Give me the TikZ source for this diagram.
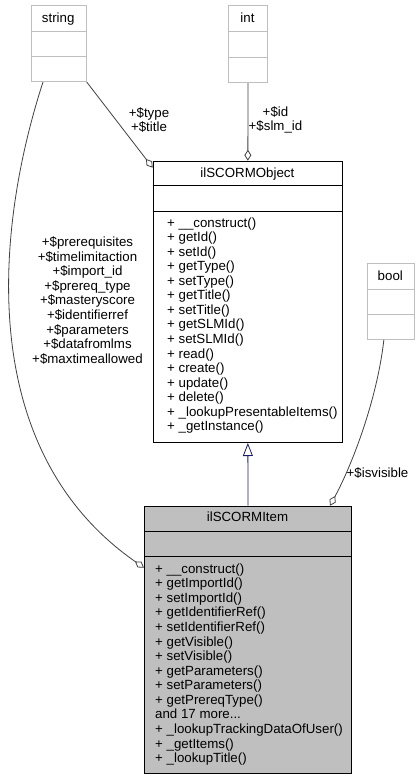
\documentclass[tikz,border=0pt]{standalone}
\usepackage{fontspec}
\setmainfont{Liberation Sans}
\usepackage{tikz}
\usetikzlibrary{arrows.meta, positioning}
\definecolor{boxgray}{HTML}{BFBFBF}
\definecolor{edgegray}{HTML}{404040}
\definecolor{inhblue}{HTML}{191970}
\newcommand{\moremeth}{and 17 more...}

\begin{document}
\begin{tikzpicture}[x=1pt, y=-1pt,
    every node/.style={font=\fontsize{13.3}{14.57}\selectfont, inner sep=0pt},
    extbox/.style={draw=boxgray, line width=1pt, fill=white, anchor=north west},
    clsbox/.style={draw=black, line width=1pt, anchor=north west},
    meth/.style={anchor=base west},
    lbl/.style={align=center},
    agg/.style={draw=edgegray, line width=0.8pt, -{Diamond[open, length=11pt, width=7pt]}},
    inh/.style={draw=inhblue, line width=0.8pt, -{Triangle[open, length=13pt, width=10pt]}}]

        \useasboundingbox (0,0) rectangle (419,779);

        % Các lớp ngoài: string, int, bool
        \node[extbox, minimum width=55pt, minimum height=75.7pt] (string) at (30.7,5.3) {};
        \draw[boxgray, line width=1pt] ([yshift=-25.7pt]string.north west) -- ([yshift=-25.7pt]string.north east);
        \draw[boxgray, line width=1pt] ([yshift=-51.4pt]string.north west) -- ([yshift=-51.4pt]string.north east);
        \node[anchor=base] (stringname) at (58.2,22) {string};

        \node[extbox, minimum width=39pt, minimum height=76.7pt] (int) at (228,5.3) {};
        \draw[boxgray, line width=1pt] ([yshift=-25.7pt]int.north west) -- ([yshift=-25.7pt]int.north east);
        \draw[boxgray, line width=1pt] ([yshift=-51.7pt]int.north west) -- ([yshift=-51.7pt]int.north east);
        \node[anchor=base] (intname) at (247.5,22) {int};

        \node[extbox, minimum width=47.3pt, minimum height=76pt] (bool) at (366.7,263) {};
        \draw[boxgray, line width=1pt] ([yshift=-26pt]bool.north west) -- ([yshift=-26pt]bool.north east);
        \draw[boxgray, line width=1pt] ([yshift=-51pt]bool.north west) -- ([yshift=-51pt]bool.north east);
        \node[anchor=base] (boolname) at (390.3,280.5) {bool};

        % Lớp ilSCORMObject
        \node[clsbox, fill=white, minimum width=189.3pt, minimum height=281.3pt] (obj) at (152.7,160.7) {};
        \draw[line width=1pt] ([yshift=-24.6pt]obj.north west) -- ([yshift=-24.6pt]obj.north east);
        \draw[line width=1pt] ([yshift=-50.3pt]obj.north west) -- ([yshift=-50.3pt]obj.north east);
        \node[anchor=base] (objname) at (247.35,177.5) {ilSCORMObject};
        \foreach \m [count=\i from 0] in {+ \_\_construct(), + getId(), + setId(), + getType(), + setType(),
            + getTitle(), + setTitle(), + getSLMId(), + setSLMId(), + read(), + create(), + update(),
            + delete(), + \_lookupPresentableItems(), + \_getInstance()}
            \node[meth] (om\i) at (167,{227+14.57*\i}) {\m};

        % Lớp ilSCORMItem
        \node[clsbox, fill=boxgray, minimum width=207pt, minimum height=267pt] (item) at (144,505.7) {};
        \draw[line width=1pt] ([yshift=-25.6pt]item.north west) -- ([yshift=-25.6pt]item.north east);
        \draw[line width=1pt] ([yshift=-51pt]item.north west) -- ([yshift=-51pt]item.north east);
        \node[anchor=base] (itemname) at (247.5,521) {ilSCORMItem};
        \foreach \m [count=\i from 0] in {+ \_\_construct(), + getImportId(), + setImportId(),
            + getIdentifierRef(), + setIdentifierRef(), + getVisible(), + setVisible(),
            + getParameters(), + setParameters(), + getPrereqType(), \moremeth,
            + \_lookupTrackingDataOfUser(), + \_getItems(), + \_lookupTitle()}
            \node[meth] (im\i) at (155,{573.3+14.56*\i}) {\m};

        % Kế thừa
        \draw[inh] (item.north) -- (obj.south);

        % Các quan hệ thành phần
        \draw[agg] (string.south east) -- ([yshift=-7pt]obj.north west);
        \draw[agg] (int.south) -- (obj.north);
        \draw[agg] ([xshift=-7pt]bool.south) .. controls (377,400) and (352,465) .. ([xshift=-22pt]item.north east);
        \draw[agg] ([xshift=12.3pt]string.south west) .. controls (-5,230) and (-25,450) .. ([yshift=-62pt]item.north west);

        % Nhãn
        \node[lbl] (lbltype) at (149,120) {+\$type\\+\$title};
        \node[lbl] (lblid) at (275.5,120) {+\$id\\+\$slm\_id};
        \node[lbl] (lblvis) at (377.5,472.7) {+\$isvisible};
        \node[lbl] (lblattr) at (87.5,300.4) {+\$prerequisites\\+\$timelimitaction\\+\$import\_id\\+\$prereq\_type\\+\$masteryscore\\+\$identifierref\\+\$parameters\\+\$datafromlms\\+\$maxtimeallowed};

        \end{tikzpicture}
\end{document}
